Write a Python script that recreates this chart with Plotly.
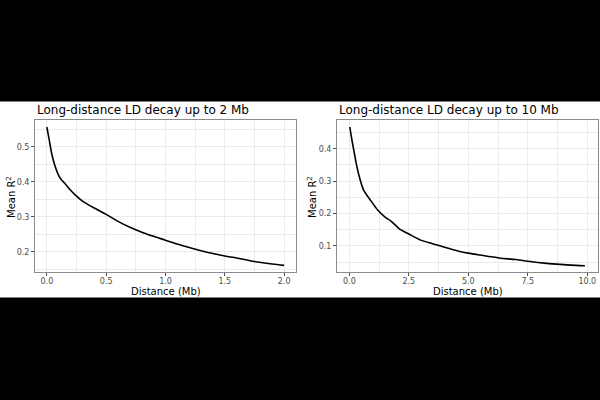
import plotly.graph_objects as go

# Left panel: LD decay up to 2 Mb
dist_2mb = [0.0, 0.02, 0.04, 0.07, 0.1, 0.13, 0.15, 0.2, 0.25, 0.3, 0.4, 0.5, 0.6, 0.7, 0.8, 0.9,
            1.0, 1.1, 1.2, 1.3, 1.4, 1.5, 1.6, 1.75, 1.9, 2.0]
r2_2mb = [0.557, 0.52, 0.482, 0.444, 0.418, 0.403, 0.396, 0.376, 0.359, 0.345, 0.325, 0.307, 0.287,
          0.270, 0.256, 0.244, 0.233, 0.222, 0.212, 0.203, 0.195, 0.188, 0.182, 0.172, 0.165, 0.161]

# Right panel: LD decay up to 10 Mb
dist_10mb = [0.02, 0.1, 0.2, 0.3, 0.45, 0.6, 0.9, 1.2, 1.5, 1.75, 2.1, 2.5, 3.0, 3.5, 4.0,
             4.6, 5.0, 5.5, 6.3, 7.0, 7.6, 8.2, 8.7, 9.3, 9.9]
r2_10mb = [0.467, 0.43, 0.39, 0.35, 0.305, 0.272, 0.24, 0.21, 0.189, 0.177, 0.153, 0.137,
           0.118, 0.107, 0.096, 0.084, 0.078, 0.072, 0.063, 0.058, 0.052, 0.047, 0.044, 0.041, 0.039]

titles = ["Long-distance LD decay up to 2 Mb", "Long-distance LD decay up to 10 Mb"]
x_title = "Distance (Mb)"
y_title = "Mean R<sup>2</sup>"

W, H = 600, 400
FONT = "DejaVu Sans"

fig = go.Figure()
fig.add_trace(go.Scatter(x=dist_2mb, y=r2_2mb, mode="lines", xaxis="x", yaxis="y",
                         line=dict(color="black", width=1.6, shape="spline", smoothing=0.8),
                         showlegend=False))
fig.add_trace(go.Scatter(x=dist_10mb, y=r2_10mb, mode="lines", xaxis="x2", yaxis="y2",
                         line=dict(color="black", width=1.6, shape="spline", smoothing=0.8),
                         showlegend=False))

def px_x(p):
    return p / W

def px_y(p):
    return (H - p) / H

grid = "#EBEBEB"
common = dict(showgrid=True, gridcolor=grid, gridwidth=1, zeroline=False,
              showline=True, linecolor="#8C8C8C", linewidth=1, mirror=True,
              ticks="outside", ticklen=3, tickcolor="#4D4D4D", tickwidth=1,
              tickfont=dict(family=FONT, size=8, color="#4D4D4D"),
              tickformat=".1f", automargin=False)

ydom = [px_y(272), px_y(120)]
fig.update_layout(
    width=W, height=H,
    margin=dict(l=0, r=0, t=0, b=0),
    paper_bgcolor="black",
    plot_bgcolor="white",
    font=dict(family=FONT),
    xaxis=dict(domain=[px_x(35), px_x(296)], range=[-0.1, 2.1], dtick=0.5, tick0=0,
               minor=dict(showgrid=True, gridcolor=grid, gridwidth=0.5, dtick=0.25, tick0=0.25, ticks=""),
               anchor="y", ticklabelstandoff=-2, **common),
    yaxis=dict(domain=ydom, range=[0.142, 0.577], dtick=0.1, tick0=0,
               minor=dict(showgrid=True, gridcolor=grid, gridwidth=0.5, dtick=0.05, tick0=0.05, ticks=""),
               anchor="x", **common),
    xaxis2=dict(domain=[px_x(337), px_x(598)], range=[-0.52, 10.45], dtick=2.5, tick0=0,
                minor=dict(showgrid=True, gridcolor=grid, gridwidth=0.5, dtick=1.25, tick0=1.25, ticks=""),
                anchor="y2", ticklabelstandoff=-2, **common),
    yaxis2=dict(domain=ydom, range=[0.0197, 0.4886], dtick=0.1, tick0=0,
                minor=dict(showgrid=True, gridcolor=grid, gridwidth=0.5, dtick=0.05, tick0=0.05, ticks=""),
                anchor="x2", **common),
)

# white band behind the plots
fig.add_shape(type="rect", xref="paper", yref="paper", x0=0, x1=1,
              y0=px_y(297.5), y1=px_y(101.5), fillcolor="white", line=dict(width=0), layer="below")

annots = []
panel_specs = [
    dict(title=titles[0], tx=35, cx=165.5, ycx=11, cy=197),
    dict(title=titles[1], tx=337, cx=467.5, ycx=312, cy=197),
]
for s in panel_specs:
    annots.append(dict(text=s["title"], x=px_x(s["tx"]), y=px_y(109.5), xref="paper", yref="paper",
                       xanchor="left", yanchor="middle", showarrow=False,
                       font=dict(family=FONT, size=12, color="black")))
    annots.append(dict(text=x_title, x=px_x(s["cx"]), y=px_y(291), xref="paper", yref="paper",
                       xanchor="center", yanchor="middle", showarrow=False,
                       font=dict(family=FONT, size=10, color="black")))
    annots.append(dict(text=y_title, x=px_x(s["ycx"]), y=px_y(s["cy"]), xref="paper", yref="paper",
                       xanchor="center", yanchor="middle", showarrow=False, textangle=-90,
                       font=dict(family=FONT, size=10, color="black")))
fig.update_layout(annotations=annots)

fig.write_html("out.html")
